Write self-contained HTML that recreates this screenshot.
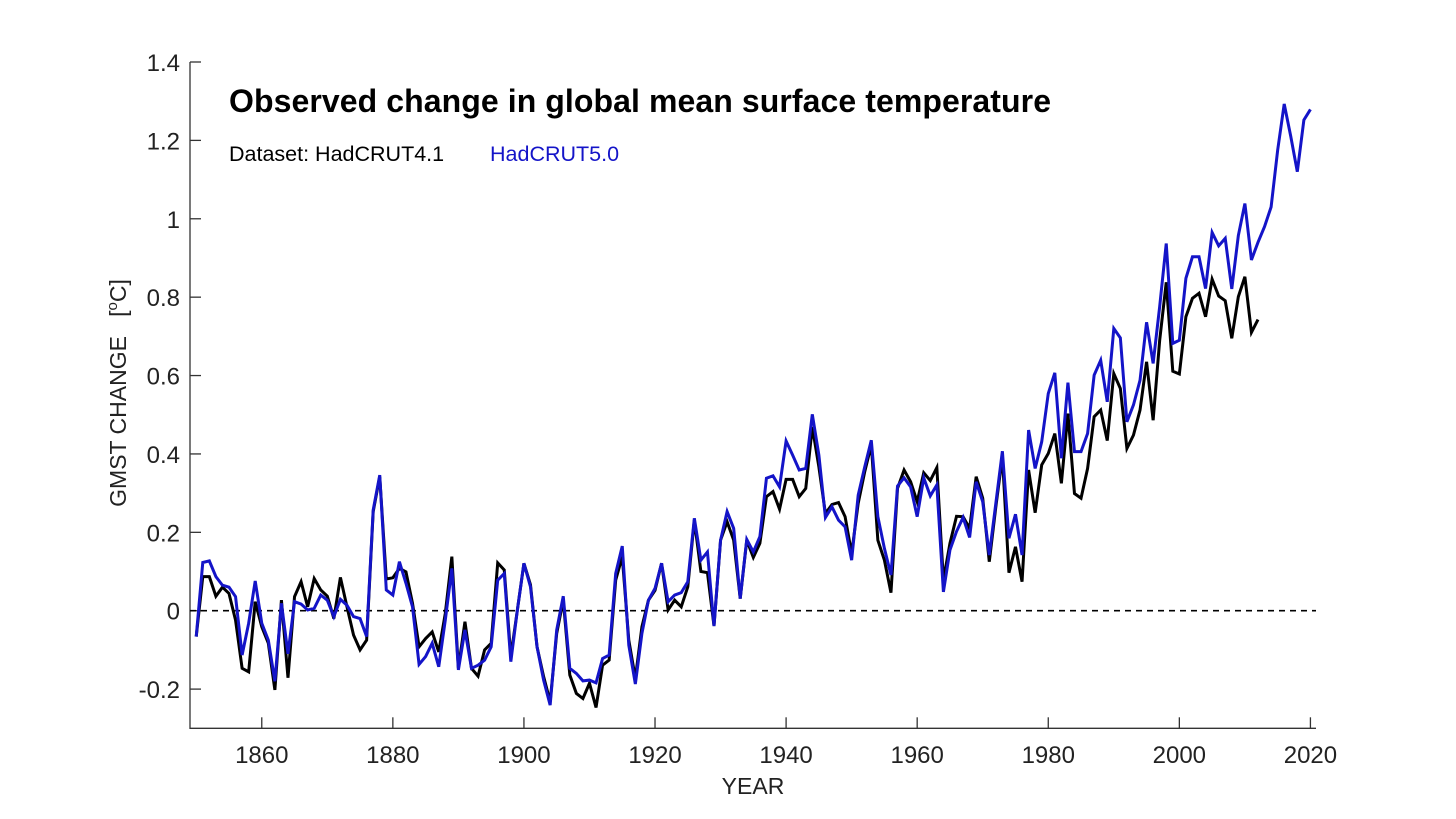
<!DOCTYPE html>
<html><head><meta charset="utf-8"><style>
html,body{margin:0;padding:0;background:#fff;}
svg{display:block;font-family:"Liberation Sans",Arial,sans-serif;}
</style></head><body>
<svg id="chart" width="1456" height="819" viewBox="0 0 1456 819">
<g id="axes"></g>
<g id="plot"></g>
<text x="229" y="112" font-size="32" font-weight="bold" fill="#000" textLength="822">Observed change in global mean surface temperature</text>
<text x="229" y="161" font-size="21.5" fill="#000">Dataset: HadCRUT4.1</text>
<text x="490" y="161" font-size="21.5" fill="#1414c8">HadCRUT5.0</text>
<text transform="translate(126,393) rotate(-90)" text-anchor="middle" font-size="23" fill="#222" xml:space="preserve">GMST CHANGE   [<tspan dy="-9" font-size="15">o</tspan><tspan dy="9">C]</tspan></text>
<text x="753" y="794" text-anchor="middle" font-size="23" fill="#222">YEAR</text>
</svg>
<script>
const startYear4 = 1850;
const hadcrut4 = [-0.066,0.087,0.087,0.037,0.06,0.044,-0.024,-0.147,-0.156,0.023,-0.041,-0.083,-0.202,0.027,-0.171,0.036,0.074,0.01,0.082,0.053,0.037,-0.02,0.085,0.01,-0.062,-0.1,-0.075,0.253,0.342,0.081,0.084,0.108,0.099,0.019,-0.092,-0.071,-0.054,-0.105,-0.007,0.138,-0.147,-0.028,-0.147,-0.167,-0.1,-0.083,0.122,0.104,-0.117,0.002,0.121,0.066,-0.092,-0.168,-0.232,-0.058,0.027,-0.164,-0.211,-0.224,-0.185,-0.247,-0.139,-0.126,0.078,0.138,-0.075,-0.173,-0.041,0.027,0.052,0.121,0.002,0.027,0.01,0.061,0.231,0.1,0.097,-0.039,0.18,0.227,0.18,0.031,0.18,0.136,0.172,0.291,0.304,0.259,0.335,0.335,0.291,0.312,0.469,0.367,0.248,0.271,0.276,0.24,0.146,0.274,0.355,0.423,0.18,0.129,0.046,0.312,0.359,0.329,0.278,0.352,0.332,0.365,0.078,0.172,0.241,0.24,0.21,0.342,0.287,0.125,0.265,0.393,0.097,0.163,0.074,0.359,0.25,0.372,0.401,0.452,0.325,0.503,0.299,0.287,0.363,0.495,0.512,0.434,0.605,0.567,0.414,0.448,0.512,0.635,0.486,0.69,0.838,0.611,0.604,0.75,0.797,0.81,0.75,0.846,0.803,0.791,0.695,0.801,0.852,0.71,0.743];
const startYear5 = 1850;
const hadcrut5 = [-0.066,0.123,0.127,0.087,0.065,0.06,0.036,-0.113,-0.032,0.076,-0.032,-0.075,-0.18,0.019,-0.11,0.023,0.017,0.002,0.006,0.04,0.027,-0.015,0.029,0.014,-0.015,-0.02,-0.066,0.257,0.346,0.053,0.04,0.125,0.07,0.01,-0.137,-0.117,-0.083,-0.143,-0.024,0.108,-0.151,-0.049,-0.147,-0.139,-0.126,-0.092,0.078,0.095,-0.13,0.002,0.121,0.061,-0.092,-0.177,-0.241,-0.049,0.037,-0.147,-0.16,-0.179,-0.177,-0.184,-0.122,-0.113,0.095,0.165,-0.088,-0.187,-0.058,0.027,0.057,0.121,0.023,0.04,0.046,0.074,0.236,0.129,0.15,-0.039,0.18,0.253,0.21,0.031,0.182,0.15,0.189,0.338,0.344,0.316,0.433,0.397,0.359,0.363,0.501,0.397,0.238,0.265,0.231,0.214,0.129,0.295,0.367,0.435,0.24,0.159,0.091,0.318,0.339,0.316,0.24,0.339,0.293,0.321,0.048,0.155,0.202,0.238,0.187,0.329,0.278,0.142,0.274,0.407,0.185,0.246,0.142,0.461,0.363,0.431,0.554,0.607,0.389,0.582,0.406,0.406,0.452,0.601,0.639,0.533,0.72,0.696,0.482,0.525,0.588,0.736,0.631,0.776,0.937,0.682,0.69,0.848,0.903,0.903,0.822,0.965,0.931,0.95,0.821,0.957,1.039,0.895,0.94,0.98,1.03,1.175,1.293,1.21,1.12,1.252,1.279];
const xTicks = [1860,1880,1900,1920,1940,1960,1980,2000,2020];
const yTicks = [-0.2,0,0.2,0.4,0.6,0.8,1,1.2,1.4];
const yTickLabels = ["-0.2","0","0.2","0.4","0.6","0.8","1","1.2","1.4"];

const X0=190,X1=1316,Y0=62,Y1=728.3;
const xMin=1849.05,xMax=2020.85,yMin=-0.3,yMax=1.4;
const xs=v=>X0+(v-xMin)/(xMax-xMin)*(X1-X0);
const ys=v=>Y1-(v-yMin)/(yMax-yMin)*(Y1-Y0);
const NS="http://www.w3.org/2000/svg";
const axes=document.getElementById('axes'), plot=document.getElementById('plot');
function mk(tag,attrs,parent){const e=document.createElementNS(NS,tag);for(const k in attrs)e.setAttribute(k,attrs[k]);parent.appendChild(e);return e;}

const ax=mk('path',{d:`M${X0},${Y0}V${Y1}H${X1}`,fill:'none',stroke:'#333','stroke-width':1.3},axes);


yTicks.forEach((t,i)=>{
  const y=ys(t);
  const tk=mk('line',{x1:X0,x2:X0+11,y1:y,y2:y,stroke:'#333','stroke-width':1.3},axes);
  
  
  const lb=mk('text',{x:X0-10,y:y+9,'text-anchor':'end','font-size':24,fill:'#222'},axes);
  lb.textContent=yTickLabels[i];
  
  
});
xTicks.forEach(t=>{
  const x=xs(t);
  const tk=mk('line',{x1:x,x2:x,y1:Y1,y2:Y1-11,stroke:'#333','stroke-width':1.3},axes);
  
  
  const lb=mk('text',{x:x,y:763,'text-anchor':'middle','font-size':24,fill:'#222'},axes);
  lb.textContent=String(t);
  
  
});
const zl=mk('line',{x1:X0,x2:X1,y1:ys(0),y2:ys(0),stroke:'#000','stroke-width':1.6,'stroke-dasharray':'6,5'},plot);


function series(arr,start,color,name){
  const d=arr.map((v,i)=>(i?'L':'M')+xs(start+i).toFixed(2)+','+ys(v).toFixed(2)).join('');
  const p=mk('path',{d:d,fill:'none',stroke:color,'stroke-width':3,'stroke-linejoin':'miter'},plot);
  
  
}
series(hadcrut4,startYear4,'#000','hadcrut4-line');
series(hadcrut5,startYear5,'#1414c8','hadcrut5-line');
</script>
</body></html>
